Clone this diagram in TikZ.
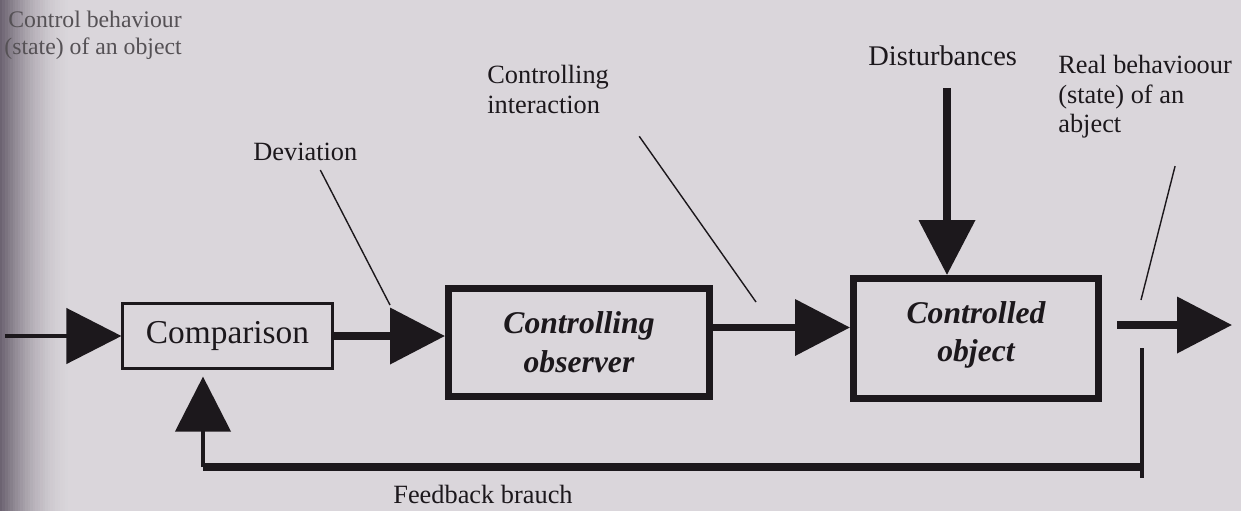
\documentclass[tikz,border=0pt]{standalone}
\usepackage{fontspec}
\setmainfont{Liberation Serif}
\usetikzlibrary{arrows.meta}
\definecolor{paper}{RGB}{218,214,219}
\definecolor{ink}{RGB}{28,24,28}
\definecolor{curl}{RGB}{80,70,86}
\begin{document}
\begin{tikzpicture}[x=0.02cm,y=-0.02cm,
  lbl/.style={inner sep=0pt,text=ink,font=\fontsize{15}{16.8}\selectfont},
  cmpbox/.style={draw=ink,line width=1.2pt,minimum width=4.2cm,minimum height=1.3cm,
    text=ink,font=\fontsize{19}{21}\selectfont},
  mainbox/.style={draw=ink,line width=4pt,align=center,text=ink,
    font=\fontsize{18}{22}\selectfont\bfseries\itshape},
  head/.style={-{Triangle[length=1.1cm,width=1.1cm]}},
  heavy/.style={draw=ink,line width=4.2pt},
  pipe/.style={draw=ink,line width=2.4pt},
  lead/.style={draw=ink,line width=0.8pt}]
\useasboundingbox (0,0) rectangle (1241,511);
\clip (0,0) rectangle (1241,511);
\fill[paper] (0,0) rectangle (1241,511);
\foreach \i in {0,...,29}{
  \pgfmathtruncatemacro\pc{80*(1-\i/30)^2}
  \fill[curl!\pc!paper] (\i*2.5,0) rectangle ++(2.6,511);
}

\node[lbl,text=ink!70!paper,align=right,anchor=north east,
  font=\fontsize{13.5}{15}\selectfont](ghost) at (182,11){Control behaviour\\(state) of an object};

\node[cmpbox](cmp) at (227.5,336){Comparison};
\node[mainbox,minimum width=5.22cm,minimum height=2.16cm](obs) at (579,342.5){Controlling\\observer};
\node[mainbox,minimum width=4.9cm,minimum height=2.4cm,text depth=8pt](obj) at (976,338.5){Controlled\\object};

\node[lbl,anchor=base west](dev) at (253,160){Deviation};
\node[lbl,align=left,anchor=north west](ctl) at (487,65){Controlling\\interaction};
\node[lbl,anchor=base west,font=\fontsize{16.2}{18}\selectfont](dist) at (868,65){Disturbances};
\node[lbl,align=left,anchor=north west](real) at (1058,55){Real behavioour\\(state) of an\\abject};
\node[lbl,anchor=base west](fb) at (393,503){Feedback brauch};

\coordinate(in) at (5,336);
\coordinate(distin) at (947,88);
\coordinate(objout) at (1117,325);
\coordinate(out) at (1232,325);
\coordinate(fbtop) at (1142,348);
\coordinate(fbbot) at (1142,478);
\coordinate(fbr) at (1142,467);
\coordinate(fbl) at (203,467);
\coordinate(devend) at (390,305);
\coordinate(ctlend) at (756,302);
\coordinate(realend) at (1141,300);

\draw[pipe,head](in) -- (cmp.west);
\draw[heavy,head](cmp.east) -- (cmp.east -| obs.west);
\draw[heavy,head]([yshift=0.3cm]obs.east) -- ([yshift=0.3cm]obs.east -| obj.west);
\draw[heavy,head](distin) -- (distin |- obj.north);
\draw[heavy,head](objout) -- (out);
\draw[pipe](fbtop) -- (fbbot);
\draw[heavy](fbr) -- (fbl);
\draw[pipe,head,shorten >=4pt](fbl) -- (fbl |- cmp.south);

\draw[lead]([xshift=0.3cm,yshift=-0.2cm]dev.base) -- (devend);
\draw[lead]([xshift=0.6cm,yshift=-0.45cm]ctl.south east) -- (ctlend);
\draw[lead]([xshift=0.6cm,yshift=-0.55cm]real.south) -- (realend);
\end{tikzpicture}
\end{document}
